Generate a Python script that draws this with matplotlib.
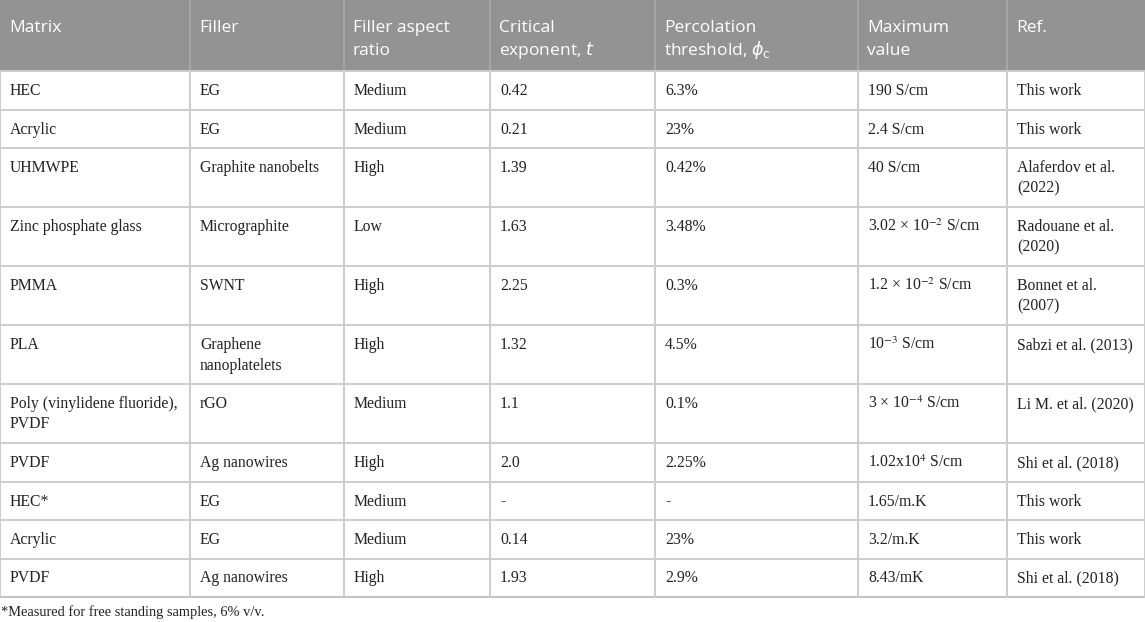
import matplotlib
matplotlib.use("Agg")
import matplotlib.pyplot as plt
from matplotlib.patches import Rectangle

# ---- data ----
headers = ["Matrix", "Filler", "Filler aspect\nratio", "Critical\nexponent, $t$",
           "Percolation\nthreshold, $\\phi_{\\mathrm{c}}$", "Maximum\nvalue", "Ref."]
matrix = ["HEC", "Acrylic", "UHMWPE", "Zinc phosphate glass", "PMMA", "PLA",
          "Poly (vinylidene fluoride),\nPVDF", "PVDF", "HEC*", "Acrylic", "PVDF"]
filler = ["EG", "EG", "Graphite nanobelts", "Micrographite", "SWNT",
          "Graphene\nnanoplatelets", "rGO", "Ag nanowires", "EG", "EG", "Ag nanowires"]
aspect = ["Medium", "Medium", "High", "Low", "High", "High", "Medium", "High",
          "Medium", "Medium", "High"]
exponent = ["0.42", "0.21", "1.39", "1.63", "2.25", "1.32", "1.1", "2.0", "-", "0.14", "1.93"]
threshold = ["6.3%", "23%", "0.42%", "3.48%", "0.3%", "4.5%", "0.1%", "2.25%", "-", "23%", "2.9%"]
maxval = ["190 S/cm", "2.4 S/cm", "40 S/cm", "3.02 \u00d7 10$^{-2}$ S/cm",
          "1.2 \u00d7 10$^{-2}$ S/cm", "10$^{-3}$ S/cm", "3 \u00d7 10$^{-4}$ S/cm",
          "1.02x10$^{4}$ S/cm", "1.65/m.K", "3.2/m.K", "8.43/mK"]
refs = ["This work", "This work", "Alaferdov et al.\n(2022)", "Radouane et al.\n(2020)",
        "Bonnet et al.\n(2007)", "Sabzi et al. (2013)", "Li M. et al. (2020)",
        "Shi et al. (2018)", "This work", "This work", "Shi et al. (2018)"]
footnote = "*Measured for free standing samples, 6% v/v."

columns = [matrix, filler, aspect, exponent, threshold, maxval, refs]

# ---- layout ----
W, H = 1145, 622
col_w = [190, 154, 146, 165, 203, 149, 138]
header_h = 71
row_base_h = 38.5
line_step = 20.5
pad_x = 9

header_bg = "#939393"
grid = "#cccccc"
body_color = "#222222"

fig = plt.figure(figsize=(W / 100, H / 100), dpi=100)
ax = fig.add_axes([0, 0, 1, 1])
ax.set_xlim(0, W)
ax.set_ylim(H, 0)
ax.axis("off")

col_x = [0]
for w in col_w:
    col_x.append(col_x[-1] + w)

# row heights from number of lines
nrows = len(matrix)
row_lines = []
for r in range(nrows):
    n = max(len(c[r].split("\n")) for c in columns)
    row_lines.append(n)
row_h = [row_base_h + line_step * (n - 1) for n in row_lines]
row_y = [header_h]
for h in row_h:
    row_y.append(row_y[-1] + h)
table_bottom = row_y[-1]

# header background
ax.add_patch(Rectangle((0, 0), W, header_h, facecolor=header_bg, edgecolor="none", zorder=1))
for x in col_x[1:-1]:
    ax.plot([x, x], [0, header_h], color="#a9a9a9", lw=1.2, zorder=2)

# header text
for c, txt in enumerate(headers):
    for i, line in enumerate(txt.split("\n")):
        ax.text(col_x[c] + pad_x, 31.5 + i * 23.5, line, color="white",
                fontfamily="Open Sans", fontsize=12.5, va="baseline", ha="left",
                math_fontfamily="dejavusans", zorder=3)

# grid lines body
for y in row_y[:-1]:
    ax.plot([0, W], [y, y], color=grid, lw=1.4, zorder=2)
ax.plot([0, W], [table_bottom, table_bottom], color="#c4c4c4", lw=1.6, zorder=2)
for x in col_x:
    ax.plot([x, x], [header_h, table_bottom], color=grid, lw=1.4, zorder=2)

# body text
for r in range(nrows):
    top = row_y[r]
    for c, col in enumerate(columns):
        for i, line in enumerate(col[r].split("\n")):
            ax.text(col_x[c] + pad_x + 1, top + 24 + i * line_step, line,
                    color=body_color, fontfamily="Liberation Serif", fontsize=11.3,
                    va="baseline", ha="left", math_fontfamily="stix", zorder=3)

ax.text(1, table_bottom + 19, footnote, color=body_color, fontfamily="Liberation Serif",
        fontsize=10.4, va="baseline", ha="left", zorder=3)

fig.savefig("out.png", dpi=100)
